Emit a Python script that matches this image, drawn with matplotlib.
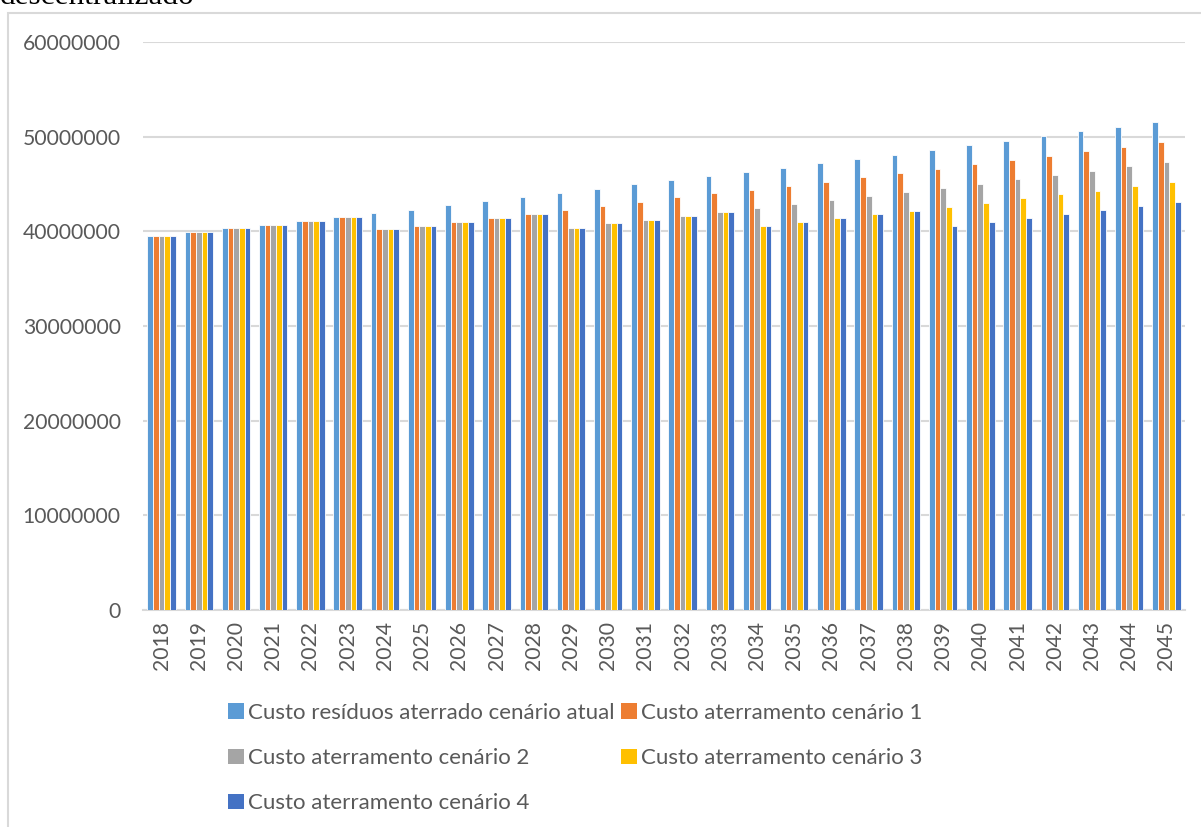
import matplotlib
matplotlib.use("Agg")
import matplotlib.pyplot as plt
import matplotlib.patches as mpatches
from matplotlib.ticker import FuncFormatter, MultipleLocator
import numpy as np

# Landfill cost per year (values in millions)
years = [str(y) for y in range(2018, 2046)]

custo_atual = [39.5, 39.9, 40.3, 40.7, 41.1, 41.5, 41.9, 42.3, 42.8, 43.2,
               43.6, 44.1, 44.5, 45.0, 45.4, 45.85, 46.3, 46.7, 47.2, 47.6,
               48.1, 48.6, 49.1, 49.5, 50.1, 50.6, 51.0, 51.6]
custo_c1 = [39.5, 39.9, 40.3, 40.7, 41.1, 41.5, 40.2, 40.6, 41.0, 41.45,
            41.8, 42.3, 42.7, 43.1, 43.6, 44.0, 44.4, 44.8, 45.2, 45.7,
            46.2, 46.6, 47.1, 47.5, 48.0, 48.5, 48.9, 49.4]
custo_c2 = [39.5, 39.9, 40.3, 40.7, 41.1, 41.5, 40.2, 40.6, 41.0, 41.45,
            41.8, 40.4, 40.85, 41.2, 41.65, 42.05, 42.5, 42.9, 43.3, 43.7,
            44.2, 44.6, 45.0, 45.5, 46.0, 46.4, 46.9, 47.3]
custo_c3 = [39.5, 39.9, 40.3, 40.7, 41.1, 41.5, 40.2, 40.6, 41.0, 41.45,
            41.8, 40.4, 40.85, 41.2, 41.65, 42.05, 40.6, 41.0, 41.4, 41.8,
            42.2, 42.6, 43.0, 43.5, 43.9, 44.3, 44.8, 45.2]
custo_c4 = [39.5, 39.9, 40.3, 40.7, 41.1, 41.5, 40.2, 40.6, 41.0, 41.45,
            41.8, 40.4, 40.85, 41.2, 41.65, 42.05, 40.6, 41.0, 41.4, 41.8,
            42.2, 40.6, 41.0, 41.4, 41.8, 42.3, 42.7, 43.1]
UNIT = 1_000_000

series_labels = ["Custo resíduos aterrado cenário atual",
                 "Custo aterramento cenário 1",
                 "Custo aterramento cenário 2",
                 "Custo aterramento cenário 3",
                 "Custo aterramento cenário 4"]
series_values = [custo_atual, custo_c1, custo_c2, custo_c3, custo_c4]
series_colors = ["#5B9BD5", "#ED7D31", "#A5A5A5", "#FFC000", "#4472C4"]

TXT = "#595959"
GRID = "#D9D9D9"
FONT = ["Lato", "DejaVu Sans"]
FS = 15.2
FS_LEG = 16

W, H = 1201, 827
fig = plt.figure(figsize=(W / 100, H / 100), dpi=100)

# Chart frame (extends past the right and bottom edges)
frame = mpatches.Rectangle((7.5 / W, -0.05), 1.2, (H - 13) / H + 0.05,
                           transform=fig.transFigure, fill=False,
                           edgecolor=GRID, linewidth=1.5, zorder=0)
fig.patches.append(frame)

# Heading above the chart, cut by the top edge
fig.text(0 / W, 1 - 4 / H, "descentralizado", family=["Liberation Serif"],
         fontsize=22.5, color="black", va="baseline", ha="left")

ax = fig.add_axes([143 / W, (H - 610) / H, 1042 / W, 568 / H])

x = np.arange(len(years))
bw = 0.1525
for i, (lab, vals, col) in enumerate(zip(series_labels, series_values, series_colors)):
    ax.bar(x + (i - 2) * bw, np.array(vals) * UNIT, width=bw, color=col,
           edgecolor="white", linewidth=0.6, label=lab, zorder=3)

ax.set_xlim(-0.5, len(years) - 0.5)
ax.set_ylim(0, 60 * UNIT)
ax.yaxis.set_major_locator(MultipleLocator(10 * UNIT))
ax.yaxis.set_major_formatter(FuncFormatter(lambda v, p: f"{int(round(v))}"))
ax.grid(axis="y", color=GRID, linewidth=1.5, zorder=0)
ax.set_axisbelow(True)

ax.set_xticks(x)
ax.set_xticklabels(years, rotation=90)

for s in ["top", "right", "left"]:
    ax.spines[s].set_visible(False)
ax.spines["bottom"].set_color(GRID)
ax.spines["bottom"].set_linewidth(1.5)

ax.tick_params(axis="both", length=0, labelcolor=TXT, labelsize=FS)
ax.tick_params(axis="y", pad=16)
ax.tick_params(axis="x", pad=8)
for t in ax.get_xticklabels() + ax.get_yticklabels():
    t.set_family(FONT)

# Legend laid out row by row: (atual, 1), (2, 3), (4)
handles, labels = ax.get_legend_handles_labels()
order = [0, 2, 4, 1, 3]
leg = fig.legend([handles[i] for i in order], [labels[i] for i in order],
                 ncol=2, loc="upper left", bbox_to_anchor=(228 / W, 1 - 703 / H),
                 frameon=False, handlelength=0.7, handleheight=0.7,
                 handletextpad=0.2, columnspacing=0.3, labelspacing=1.13,
                 borderaxespad=0, borderpad=0,
                 prop={"family": FONT, "size": FS_LEG})
for t in leg.get_texts():
    t.set_color(TXT)
for h in leg.legend_handles:
    h.set_edgecolor("none")

fig.savefig("out.png", dpi=100)
